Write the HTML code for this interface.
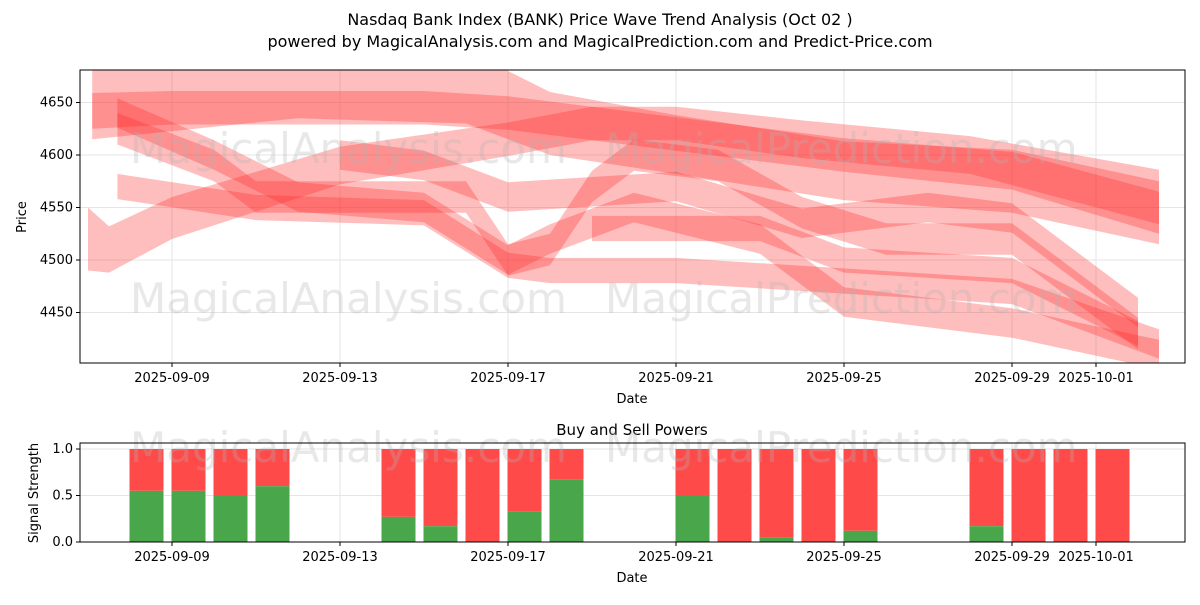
<!DOCTYPE html>
<html><head><meta charset="utf-8"><style>
body{margin:0;background:#fff;font-family:"Liberation Sans","DejaVu Sans",sans-serif}
svg text{font-family:"DejaVu Sans","Liberation Sans",sans-serif}
</style></head><body>
<svg id="c" width="1200" height="600" xmlns="http://www.w3.org/2000/svg">
<rect width="1200" height="600" fill="#fff"/>
<text x="600" y="25" font-size="16" text-anchor="middle">Nasdaq Bank Index (BANK) Price Wave Trend Analysis (Oct 02 )</text>
<text x="600" y="47" font-size="16" text-anchor="middle">powered by MagicalAnalysis.com and MagicalPrediction.com and Predict-Price.com</text>
<g id="topg"></g><g id="botg"></g>
</svg>
<script>
const tickDays=[0,4,8,12,16,20,22];
const tickLabels=["2025-09-09","2025-09-13","2025-09-17","2025-09-21","2025-09-25","2025-09-29","2025-10-01"];
const priceTicks=[4450,4500,4550,4600,4650];
const waves=[
 [[-1.9,4655,40],[3,4670,35],[7,4665,35],[9,4630,30],[12,4610,28],[16,4585,28],[20,4575,30],[23.5,4545,30]],
 [[-1.9,4642,17],[0,4645,16],[6,4645,16],[8,4640,16],[11,4625,16],[16,4600,16],[20,4585,18],[23.5,4545,20]],
 [[-2,4520,30],[-1.5,4510,22],[0,4540,20],[4,4590,18],[8,4615,16],[10,4630,16],[12,4630,16],[15,4615,18],[19,4600,18],[23.5,4560,26]],
 [[-1.3,4625,15],[1,4590,15],[2,4560,15],[5,4560,15],[7,4560,15],[8,4500,15],[9,4510,15],[10,4570,15],[11,4600,15],[13,4590,15],[15,4545,15],[17,4520,15],[20,4520,15],[23,4430,15]],
 [[-1.3,4570,12],[2,4550,12],[6,4545,12],[8,4495,12],[9,4490,12],[12,4490,12],[16,4480,12],[20,4470,12],[23.5,4420,14]],
 [[10,4530,12],[14,4530,12],[16,4500,12],[20,4490,12],[23,4430,12]],
 [[4,4600,14],[6,4590,14],[8,4560,14],[12,4570,14],[15,4535,14],[18,4550,14],[20,4540,14],[23,4450,14]],
 [[-1.3,4640,14],[1,4600,14],[3,4560,14],[6,4550,14],[8,4500,14],[9,4520,14],[11,4550,14],[14,4520,14],[16,4460,14],[20,4440,14],[23.5,4410,14]]
];
const barDays=[-1,0,1,2,5,6,7,8,9,12,13,14,15,16,19,20,21,22];
const buyVals=[0.55,0.55,0.5,0.6,0.27,0.17,0,0.33,0.67,0.5,0,0.05,0,0.12,0.17,0,0,0];
const NS="http://www.w3.org/2000/svg";
function mk(p,t,a){const e=document.createElementNS(NS,t);for(const k in a)e.setAttribute(k,a[k]);p.appendChild(e);return e;}
const X=d=>172+42*d, Y=v=>155-(v-4600)*1.05;
const topG=document.getElementById('topg'), botG=document.getElementById('botg');
const L=80,R=1185,T=70,B=363;
for(const d of tickDays){const g=mk(topG,'line',{x1:X(d),x2:X(d),y1:T,y2:B,stroke:'#e5e5e5'});}
for(const v of priceTicks){const g=mk(topG,'line',{x1:L,x2:R,y1:Y(v),y2:Y(v),stroke:'#e5e5e5'});}
const cp=mk(topG,'clipPath',{id:'cp'});mk(cp,'rect',{x:L,y:T,width:R-L,height:B-T});
const wg=mk(topG,'g',{'clip-path':'url(#cp)'});
waves.forEach((w,i)=>{
 const up=w.map(p=>X(p[0])+','+Y(p[1]+p[2])), dn=w.slice().reverse().map(p=>X(p[0])+','+Y(p[1]-p[2]));
 const e=mk(wg,'polygon',{points:up.concat(dn).join(' '),fill:'rgba(255,40,40,0.3)'});
 
 
});
for(const [x,y] of [[130,163],[605,163],[130,313],[605,313]]){const t=mk(topG,'text',{x:x,y:y,'font-size':42,fill:'rgba(180,180,180,0.3)'});t.textContent=(x<300?'MagicalAnalysis.com':'MagicalPrediction.com');}
mk(topG,'rect',{x:L,y:T,width:R-L,height:B-T,fill:'none',stroke:'#000'});
tickDays.forEach((d,i)=>{mk(topG,'line',{x1:X(d),x2:X(d),y1:B,y2:B+4,stroke:'#000'});const t=mk(topG,'text',{x:X(d),y:B+19,'font-size':13,'text-anchor':'middle'});t.textContent=tickLabels[i];});
for(const v of priceTicks){mk(topG,'line',{x1:L-4,x2:L,y1:Y(v),y2:Y(v),stroke:'#000'});const t=mk(topG,'text',{x:L-7,y:Y(v)+4,'font-size':13,'text-anchor':'end'});t.textContent=v;}
let t=mk(topG,'text',{x:632,y:403,'font-size':13,'text-anchor':'middle'});t.textContent='Date';
t=mk(topG,'text',{x:26,y:217,'font-size':13,'text-anchor':'middle',transform:'rotate(-90 26 217)'});t.textContent='Price';
const BT=443,BB=542,Yb=v=>BB-v*93,Xb=d=>X(d)+16;
t=mk(botG,'text',{x:632,y:435,'font-size':15,'text-anchor':'middle'});t.textContent='Buy and Sell Powers';
for(const d of tickDays){mk(botG,'line',{x1:X(d),x2:X(d),y1:BT,y2:BB,stroke:'#e5e5e5'});}
for(const v of [0,0.5,1]){mk(botG,'line',{x1:L,x2:R,y1:Yb(v),y2:Yb(v),stroke:'#e5e5e5'});}
barDays.forEach((d,i)=>{
 const x=Xb(d)-16.5,w=34,b=buyVals[i];
 const s=mk(botG,'rect',{x:x,y:Yb(1),width:w,height:Yb(b)-Yb(1),fill:'#ff4a4a'});
 
 
 const g=mk(botG,'rect',{x:x,y:Yb(b),width:w,height:BB-Yb(b),fill:'#4aa64a'});
 
 
});
for(const [x,y] of [[130,462],[605,462]]){const w=mk(botG,'text',{x:x,y:y,'font-size':42,fill:'rgba(180,180,180,0.3)'});w.textContent=(x<300?'MagicalAnalysis.com':'MagicalPrediction.com');}
mk(botG,'rect',{x:L,y:BT,width:R-L,height:BB-BT,fill:'none',stroke:'#000'});
tickDays.forEach((d,i)=>{mk(botG,'line',{x1:X(d),x2:X(d),y1:BB,y2:BB+4,stroke:'#000'});const e=mk(botG,'text',{x:X(d),y:BB+19,'font-size':13,'text-anchor':'middle'});e.textContent=tickLabels[i];});
for(const v of [0,0.5,1]){mk(botG,'line',{x1:L-4,x2:L,y1:Yb(v),y2:Yb(v),stroke:'#000'});const e=mk(botG,'text',{x:L-7,y:Yb(v)+4,'font-size':13,'text-anchor':'end'});e.textContent=v.toFixed(1);}
t=mk(botG,'text',{x:632,y:582,'font-size':13,'text-anchor':'middle'});t.textContent='Date';
t=mk(botG,'text',{x:38,y:493,'font-size':13,'text-anchor':'middle',transform:'rotate(-90 38 493)'});t.textContent='Signal Strength';
</script>
</body></html>
